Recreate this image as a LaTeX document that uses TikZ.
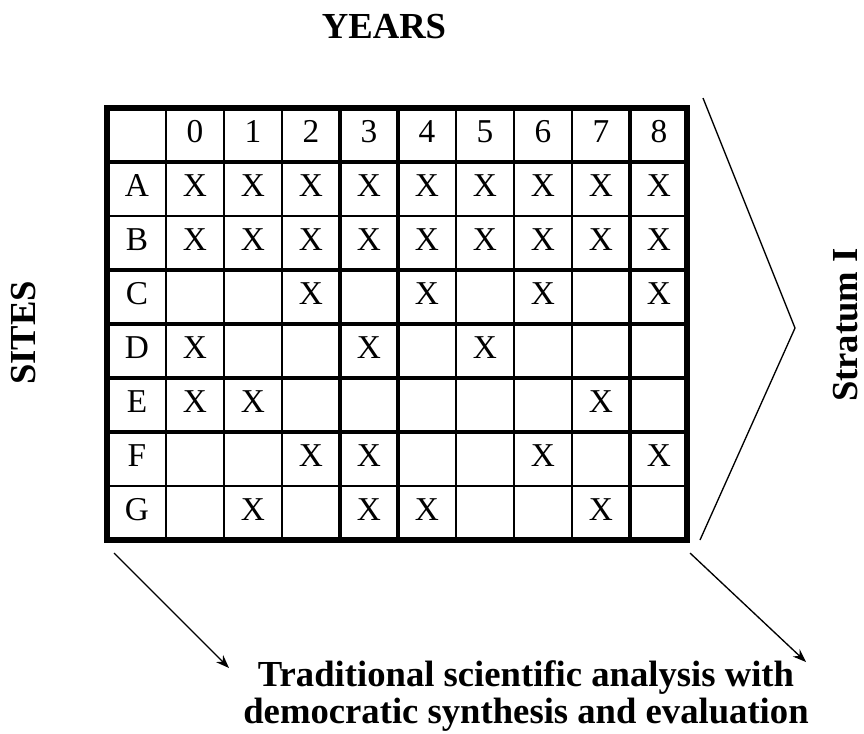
\documentclass[tikz,border=0pt]{standalone}
\usepackage{fontspec}
\setmainfont{Liberation Serif}
\usetikzlibrary{arrows.meta}

\begin{document}
\begin{tikzpicture}[x=0.75pt, y=-0.75pt]
      \tikzstyle{every node}=[font=\fontsize{25}{28}\selectfont, inner sep=0pt]
      \tikzstyle{entry}=[anchor=base]
      \tikzstyle{heading}=[font=\fontsize{27.5}{27.5}\selectfont\bfseries]
      \tikzstyle{thin rule}=[line width=1.5pt]
      \tikzstyle{thick rule}=[line width=2.8pt]
      \tikzstyle{pointer}=[line width=1pt, -{Stealth[length=10pt, width=7.5pt]}]
      \useasboundingbox (0,0) rectangle (864,733);

      % header row and site column
      \foreach \i in {0, ..., 8}
      {
        \path (195+\i*58, 142) node [entry] (y\i) {\i};
      }
      \foreach \s [count=\j] in {A, B, C, D, E, F, G}
      {
        \path (137, 142+\j*54) node [entry] (s\s) {\s};
      }

      % observed cells
      \foreach \j/\cols in {1/{0,...,8}, 2/{0,...,8}, 3/{2,4,6,8},
                            4/{0,3,5}, 5/{0,1,7}, 6/{2,3,6,8}, 7/{1,3,4,7}}
      {
        \foreach \i in \cols
        {
          \path (195+\i*58, 142+\j*54) node [entry] (x\j\i) {X};
        }
      }

      % grid
      \foreach \j in {2, 7}
        \draw [thin rule] (107, 108+\j*54) -- (687, 108+\j*54);
      \foreach \j in {1, 3, 4, 5, 6}
        \draw [thick rule] (107, 108+\j*54) -- (687, 108+\j*54);
      \foreach \i in {0, 1, 2, 4, 5, 6, 7}
        \draw [thin rule] (166+\i*58, 108) -- (166+\i*58, 540);
      \foreach \i in {3, 4, 8}
        \draw [thick rule] (166+\i*58, 108) -- (166+\i*58, 540);
      \draw [line width=4.2pt] (107, 108) rectangle (687, 540);

      \path (384, 27) node [heading] (years) {YEARS};
      \path (24, 333) node [heading, rotate=90] (sites) {SITES};
      \path (846, 325) node [heading, rotate=90] (stratum) {Stratum I};
      \path (526, 696) node [heading, align=center] (goal)
        {Traditional scientific analysis with\\democratic synthesis and evaluation};

      \coordinate (top) at (703, 98);
      \coordinate (tip) at (795, 328);
      \coordinate (bot) at (700, 540);
      \draw [line width=1pt] (top) -- (tip) -- (bot);

      \coordinate (l0) at (114, 553);
      \coordinate (l1) at (229, 668);
      \coordinate (r0) at (690, 553);
      \coordinate (r1) at (806, 662);
      \draw [pointer] (l0) -- (l1);
      \draw [pointer] (r0) -- (r1);
    \end{tikzpicture}
\end{document}
